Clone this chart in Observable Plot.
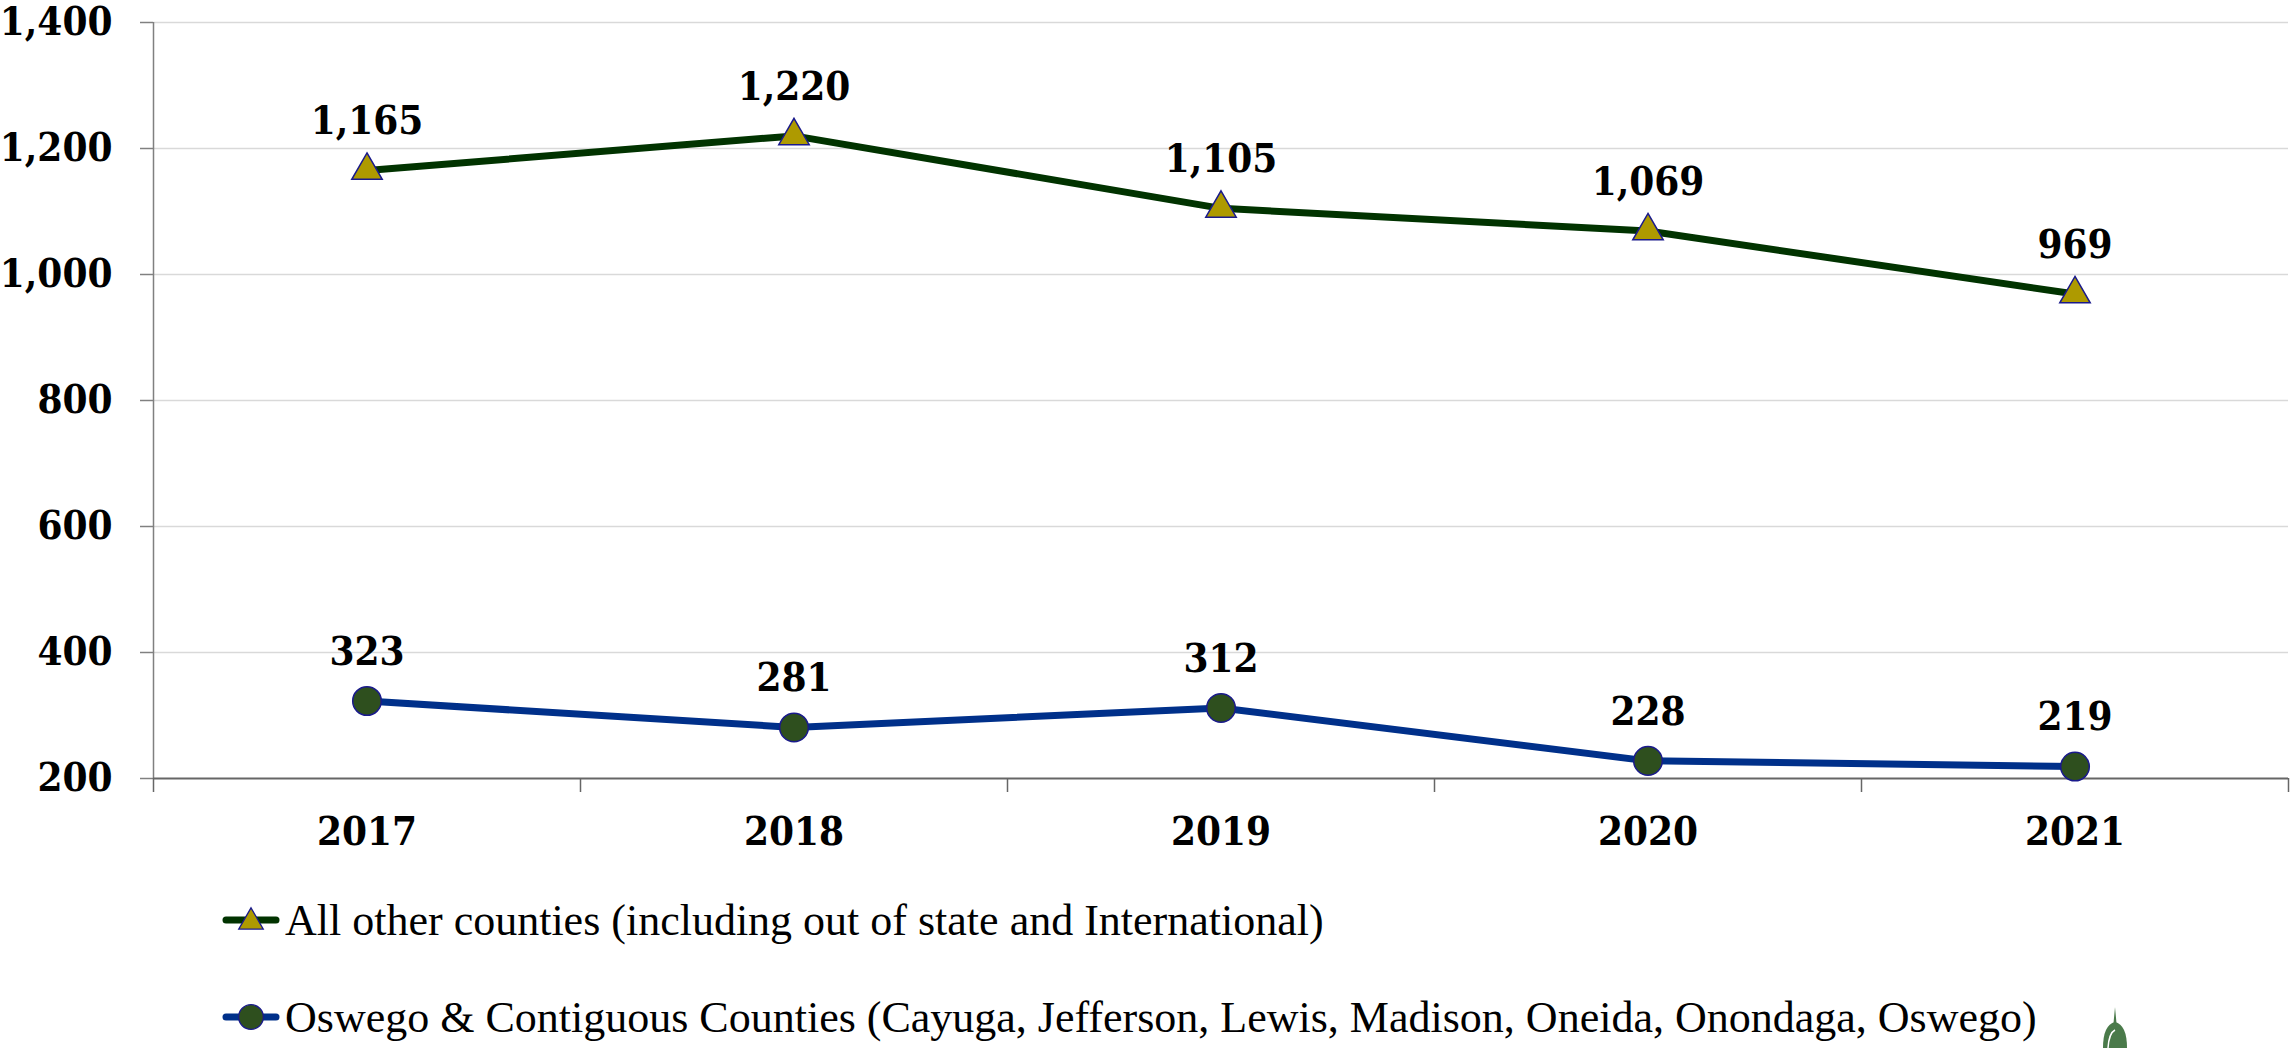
<!DOCTYPE html>
<html>
<head>
<meta charset="utf-8">
<script src="https://cdn.jsdelivr.net/npm/d3@7"></script>
<script src="https://cdn.jsdelivr.net/npm/@observablehq/plot@0.6"></script>
<style>
  html, body { margin: 0; padding: 0; background: #fff; width: 2290px; height: 1048px; overflow: hidden; }
  #wrap { position: relative; width: 2290px; height: 1048px; }
  #chart svg { display: block; }
  .leg { position: absolute; left: 222px; display: flex; align-items: center; white-space: nowrap;
         font-family: "Liberation Serif", "Times New Roman", serif; font-size: 44px; color: #000; }
  .leg svg { display: block; margin-right: 3px; }
  #logo { position: absolute; left: 2095px; top: 1005px; }
</style>
</head>
<body>
<div id="wrap">
  <div id="chart"></div>
  <div id="legend"></div>
  <svg id="logo" width="50" height="43" viewBox="0 0 50 43">
    <path d="M20 2 L21.5 18 L18.5 18 Z" fill="#4a7a4a"/>
    <path d="M8 43 Q8 20 20 17 Q32 20 32 43 Z" fill="#4a7a4a"/>
    <path d="M13 43 Q14 28 20 25" stroke="#fff" stroke-width="1.5" fill="none"/>
  </svg>
</div>
<script>
const years = [2017, 2018, 2019, 2020, 2021];
const otherCounties = [1165, 1220, 1105, 1069, 969];
const oswegoContiguous = [323, 281, 312, 228, 219];
const yTicks = [200, 400, 600, 800, 1000, 1200, 1400];
const xBoundaries = [2016.5, 2017.5, 2018.5, 2019.5, 2020.5, 2021.5];
const seriesNames = [
  "All other counties (including out of state and International)",
  "Oswego & Contiguous Counties (Cayuga, Jefferson, Lewis, Madison, Oneida, Onondaga, Oswego)"
];
const lineColors = ["#013300", "#00308a"];
const markerFills = ["#ae9a00", "#2e4f1e"];
const markerStroke = "#1a1a8c";

const rows = [];
years.forEach((yr, i) => {
  rows.push({year: yr, value: otherCounties[i], series: seriesNames[0]});
  rows.push({year: yr, value: oswegoContiguous[i], series: seriesNames[1]});
});

const fmt = d3.format(",");
const boldFont = '"DejaVu Serif Condensed", "DejaVu Serif", serif';

const chart = Plot.plot({
  width: 2290,
  height: 870,
  marginLeft: 153,
  marginRight: 2,
  marginTop: 22,
  marginBottom: 92,
  style: {fontFamily: boldFont, fontWeight: "bold", fontSize: "40px", color: "#000", background: "#fff", fontStretch: "condensed"},
  x: {domain: [2016.5, 2021.5], axis: null},
  y: {domain: [200, 1400], axis: null},
  color: {domain: seriesNames, range: lineColors},
  marks: [
    Plot.gridY(yTicks.filter(d => d > 200), {stroke: "#d9d9d9", strokeOpacity: 1, strokeWidth: 1.5}),
    Plot.axisY(yTicks, {label: null, tickSize: 13, tickPadding: 28, tickFormat: fmt, stroke: "#808080", strokeWidth: 1.5, fill: "#000"}),
    Plot.ruleX([2016.5], {stroke: "#808080", strokeWidth: 1.5}),
    Plot.axisX(xBoundaries, {label: null, tickSize: 14, tickFormat: () => "", stroke: "#666", strokeWidth: 1.5}),
    Plot.ruleY([200], {stroke: "#666", strokeWidth: 2}),
    Plot.axisX(years, {label: null, tickSize: 0, tickPadding: 38, tickFormat: d => String(d), fill: "#000"}),
    Plot.line(rows, {x: "year", y: "value", z: "series", stroke: "series", strokeWidth: 7}),
    Plot.dot(rows.filter(d => d.series === seriesNames[0]), {x: "year", y: "value", symbol: "triangle", r: 11.3, fill: markerFills[0], stroke: markerStroke, strokeWidth: 1.5}),
    Plot.dot(rows.filter(d => d.series === seriesNames[1]), {x: "year", y: "value", symbol: "circle", r: 14.3, fill: markerFills[1], stroke: markerStroke, strokeWidth: 1.5}),
    Plot.text(rows, {x: "year", y: "value", text: d => fmt(d.value), dy: -49, lineAnchor: "middle", textAnchor: "middle", fill: "#000"})
  ]
});
document.getElementById("chart").appendChild(chart);

// Legend
const legend = document.getElementById("legend");
const legendTops = [920, 1017];
seriesNames.forEach((name, i) => {
  const item = document.createElement("div");
  item.className = "leg";
  item.style.top = (legendTops[i] - 30) + "px";
  item.style.height = "60px";
  const ns = "http://www.w3.org/2000/svg";
  const s = document.createElementNS(ns, "svg");
  s.setAttribute("width", 60); s.setAttribute("height", 30);
  const ln = document.createElementNS(ns, "line");
  ln.setAttribute("x1", 4); ln.setAttribute("x2", 54); ln.setAttribute("y1", 15); ln.setAttribute("y2", 15);
  ln.setAttribute("stroke", lineColors[i]); ln.setAttribute("stroke-width", 7); ln.setAttribute("stroke-linecap", "round");
  s.appendChild(ln);
  const sym = d3.symbol(i === 0 ? d3.symbolTriangle : d3.symbolCircle, i === 0 ? 260 : 480)();
  const p = document.createElementNS(ns, "path");
  p.setAttribute("d", sym);
  p.setAttribute("transform", i === 0 ? "translate(29,17)" : "translate(29,15)");
  p.setAttribute("fill", markerFills[i]); p.setAttribute("stroke", markerStroke); p.setAttribute("stroke-width", 1.3);
  s.appendChild(p);
  item.appendChild(s);
  const t = document.createElement("span");
  t.textContent = name;
  item.appendChild(t);
  legend.appendChild(item);
});
</script>
</body>
</html>
